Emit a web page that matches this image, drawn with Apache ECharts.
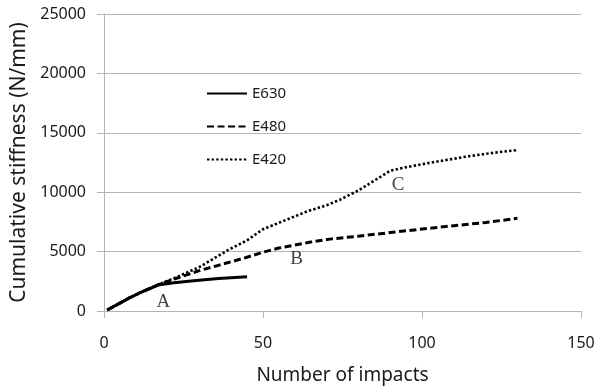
<!DOCTYPE html>
<html>
<head>
<meta charset="utf-8">
<script src="https://cdn.jsdelivr.net/npm/echarts@6/dist/echarts.min.js"></script>
<style>
  html, body { margin: 0; padding: 0; background: #fff; }
  #chart { width: 595px; height: 388px; }
</style>
</head>
<body>
<div id="chart"></div>
<script>
// Cumulative stiffness (N/mm) against number of impacts
const seriesNames = ['E630', 'E480', 'E420'];

const e630 = [
  [1, 80], [4, 520], [8, 1100], [12, 1620], [17, 2180],
  [22, 2380], [29, 2560], [36, 2730], [45, 2890]
];

const e480 = [
  [1, 80], [4, 520], [8, 1100], [12, 1620], [17, 2200],
  [22, 2680], [30, 3400], [37, 3920], [44, 4450], [50, 4950],
  [55, 5300], [60, 5550], [65, 5800], [71, 6050], [80, 6300],
  [90, 6600], [100, 6900], [110, 7180], [120, 7450], [130, 7800]
];

const e420 = [
  [1, 80], [4, 520], [8, 1100], [12, 1620], [17, 2220],
  [22, 2750], [30, 3700], [39, 5130], [45, 5950], [50, 6880],
  [58, 7750], [64, 8400], [70, 8900], [74, 9340], [80, 10150],
  [87, 11300], [90, 11800], [95, 12100], [103, 12500], [114, 13000],
  [122, 13300], [130, 13550]
];

// Point labels placed in data coordinates
const pointLabels = [
  [18.7, 780, 'A'],
  [60.6, 4350, 'B'],
  [92.5, 10600, 'C']
];

const xTicks = { min: 0, max: 150, interval: 50 };
const yTicks = { min: 0, max: 25000, interval: 5000 };

const sansFont = 'Noto Sans';
const gridColor = '#b4b4b4';
const textColor = '#1a1a1a';

const chart = echarts.init(document.getElementById('chart'), null, { renderer: 'canvas' });

chart.setOption({
  animation: false,
  backgroundColor: '#ffffff',
  grid: { left: 104, right: 14, top: 14, bottom: 77, outerBoundsMode: 'none', containLabel: false },
  legend: {
    orient: 'vertical',
    left: 201,
    top: 81,
    itemWidth: 40,
    itemHeight: 14,
    itemGap: 18,
    data: seriesNames,
    itemStyle: { opacity: 0 },
    textStyle: { fontFamily: sansFont, fontSize: 15, color: textColor }
  },
  xAxis: {
    type: 'value',
    min: xTicks.min,
    max: xTicks.max,
    interval: xTicks.interval,
    name: 'Number of impacts',
    nameLocation: 'middle',
    nameGap: 55,
    nameTextStyle: { fontFamily: sansFont, fontSize: 19, color: textColor },
    axisLine: { show: true, lineStyle: { color: gridColor, width: 1 } },
    axisTick: { show: true, length: 7, lineStyle: { color: gridColor } },
    axisLabel: { margin: 24, fontFamily: sansFont, fontSize: 16, color: textColor },
    splitLine: { show: false }
  },
  yAxis: {
    type: 'value',
    min: yTicks.min,
    max: yTicks.max,
    interval: yTicks.interval,
    name: 'Cumulative stiffness (N/mm)',
    nameLocation: 'middle',
    nameGap: 74,
    nameTextStyle: { fontFamily: sansFont, fontSize: 21, color: textColor },
    axisLine: { show: true, lineStyle: { color: gridColor, width: 1 } },
    axisTick: { show: true, length: 7, lineStyle: { color: gridColor } },
    axisLabel: {
      margin: 18, fontFamily: sansFont, fontSize: 16, color: textColor,
      formatter: v => String(v)
    },
    splitLine: { show: true, lineStyle: { color: gridColor, width: 1 } }
  },
  series: [
    {
      name: 'E630',
      type: 'line',
      data: e630,
      symbol: 'none',
      lineStyle: { color: '#000', width: 3, type: 'solid' },
      itemStyle: { color: '#000' },
      z: 4
    },
    {
      name: 'E480',
      type: 'line',
      data: e480,
      symbol: 'none',
      lineStyle: { color: '#000', width: 3, type: [7, 3.5] },
      itemStyle: { color: '#000' },
      z: 3
    },
    {
      name: 'E420',
      type: 'line',
      data: e420,
      symbol: 'none',
      lineStyle: { color: '#000', width: 2.6, type: [2.4, 2.2] },
      itemStyle: { color: '#000' },
      z: 2
    },
    {
      name: 'labels',
      type: 'scatter',
      data: pointLabels,
      symbolSize: 0,
      silent: true,
      label: {
        show: true,
        position: 'inside',
        formatter: p => p.value[2],
        fontFamily: 'Liberation Serif',
        fontSize: 19,
        color: '#111'
      },
      z: 5
    }
  ]
});
</script>
</body>
</html>
